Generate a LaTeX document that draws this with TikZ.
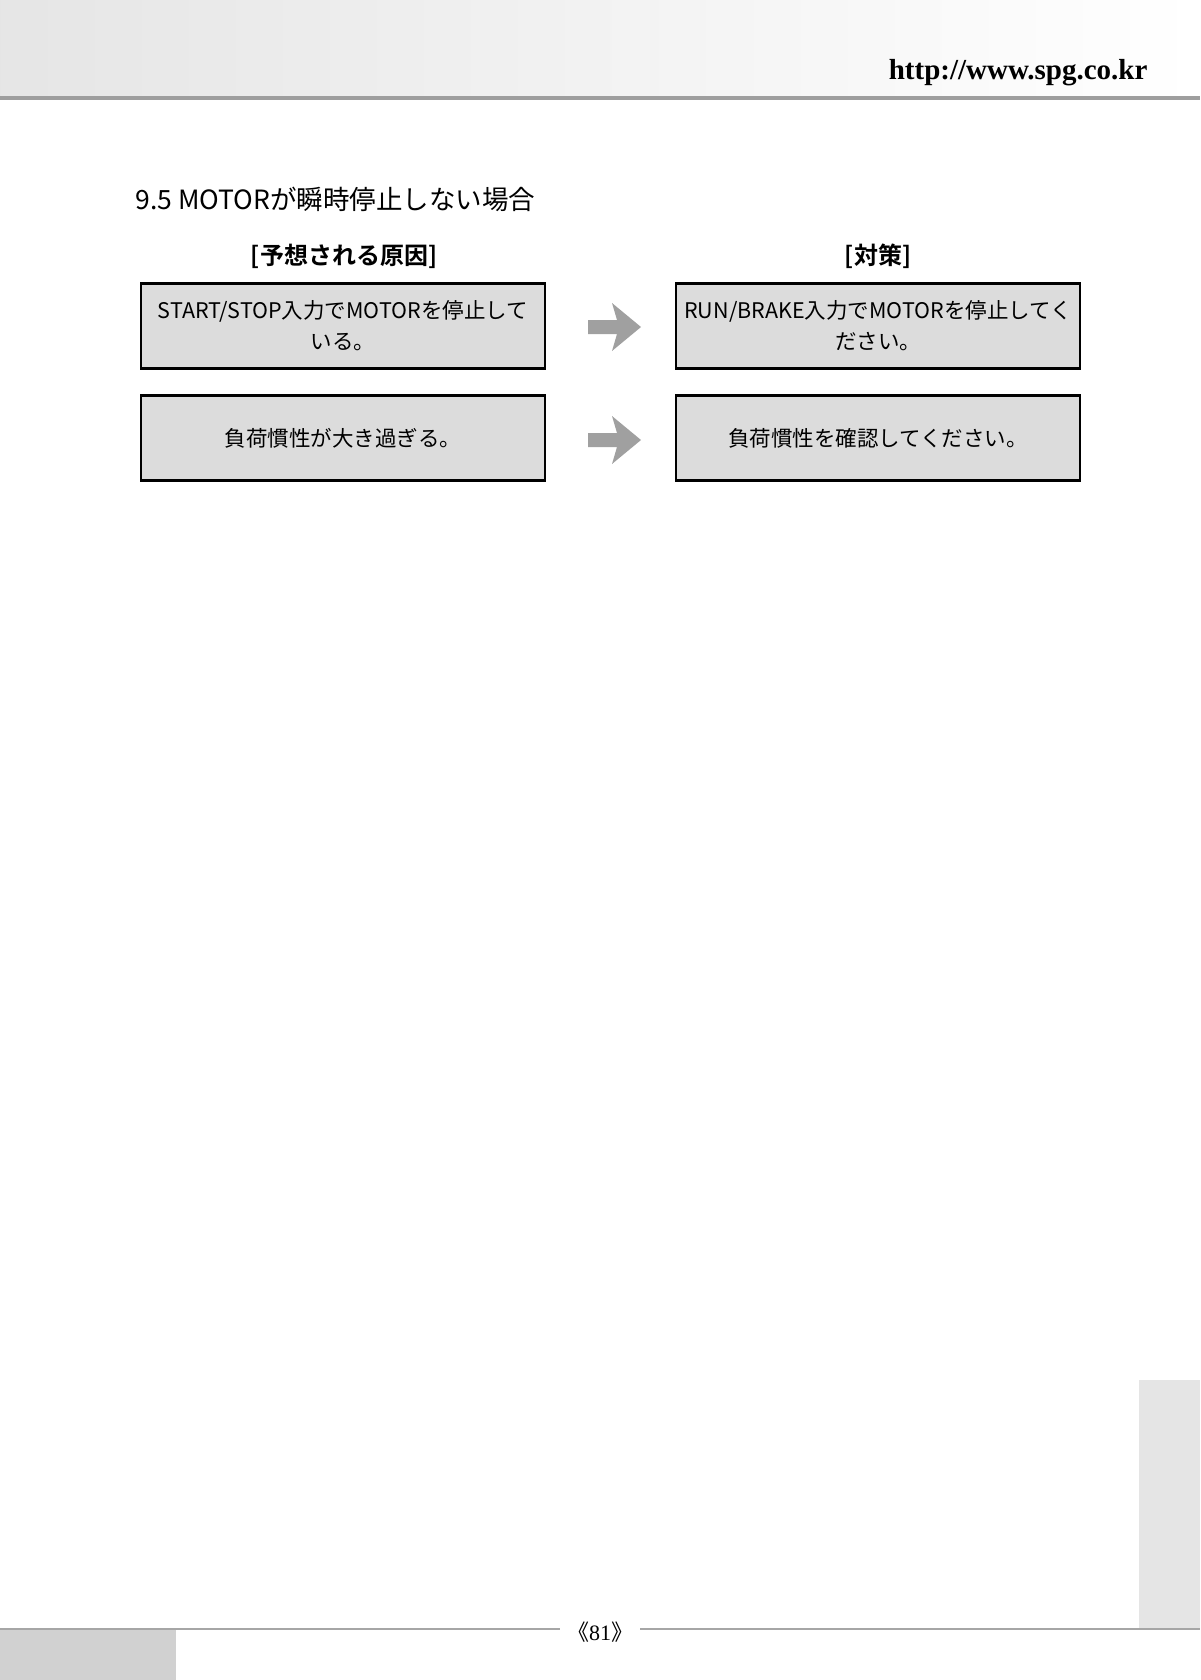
\documentclass[tikz,border=0pt]{standalone}
\usepackage{fontspec}
\usetikzlibrary{positioning}
\newfontfamily\jp{Noto Sans CJK JP}
\newfontfamily\jpb{Noto Sans CJK JP Bold}
\setmainfont{Liberation Serif}
\definecolor{boxgray}{HTML}{DCDCDC}
\definecolor{arrowgray}{HTML}{A0A0A0}
\tikzset{
  causebox/.style={draw=black, line width=2.5pt, fill=boxgray, minimum width=404pt,
    minimum height=85pt, align=center, font=\jp\fontsize{21.5}{31}\selectfont},
  heading/.style={font=\jpb\fontsize{24}{28}\selectfont},
  fatarrow/.style={fill=arrowgray, draw=none}
}
\begin{document}
\begin{tikzpicture}[x=1pt, y=-1pt]
  \useasboundingbox (0,0) rectangle (1200,1680);
  % header band
  \shade[left color=black!10, right color=white] (0,0) rectangle (1200,96);
  \fill[black!38] (0,96) rectangle (1200,100);
  \node[anchor=base east, font=\bfseries\fontsize{29}{32}\selectfont] (url) at (1151,80) {http://www.spg.co.kr};
  % title
  \node[anchor=west, font=\jp\fontsize{26.5}{30}\selectfont] (title) at (132,199) {9.5 MOTORが瞬時停止しない場合};
  \node[heading] (hcause) at (344,256) {[予想される原因]};
  \node[heading] (hfix) at (878,256) {[対策]};
  % boxes
  \node[causebox] (cause1) at (343,326) {START/STOP入力でMOTORを停止して\\いる。};
  \node[causebox] (fix1) at (878,326) {RUN/BRAKE入力でMOTORを停止してく\\ださい。};
  \node[causebox] (cause2) at (343,438) {負荷慣性が大き過ぎる。};
  \node[causebox] (fix2) at (878,438) {負荷慣性を確認してください。};
  % arrows
  \foreach \y in {327,440} {
    \fill[fatarrow] (588,\y-7) -- (617,\y-7) -- (612,\y-24) -- (641,\y) -- (612,\y+24)
      -- (617,\y+7) -- (588,\y+7) -- cycle;
  }
  % footer
  \fill[black!10] (1139,1380) rectangle (1200,1628);
  \fill[black!18] (0,1630) rectangle (176,1680);
  \draw[black!35, line width=1.5pt] (0,1629) -- (560,1629);
  \draw[black!35, line width=1.5pt] (640,1629) -- (1200,1629);
  \node[font=\fontsize{22}{24}\selectfont] (page) at (600,1632) {{\jp 《}81{\jp 》}};
\end{tikzpicture}
\end{document}
